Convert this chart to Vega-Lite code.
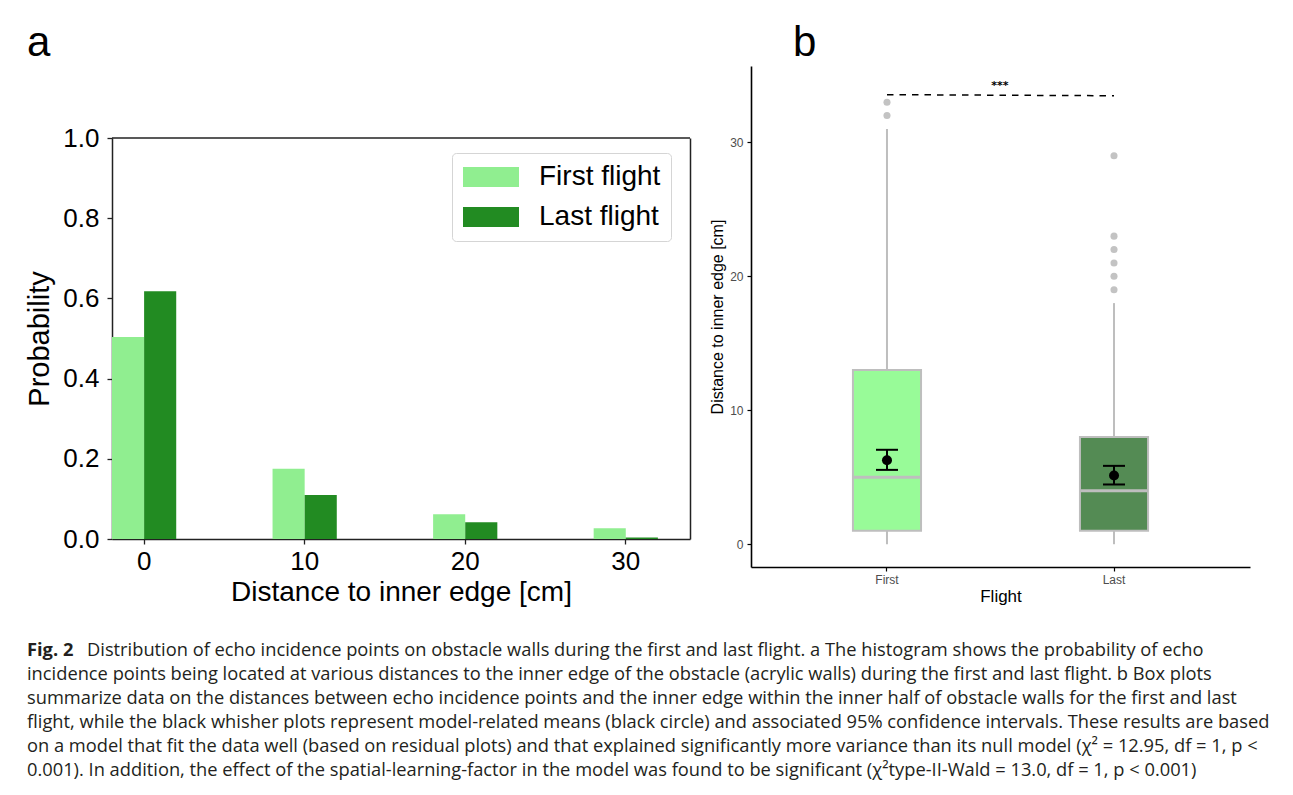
{
  "$schema": "https://vega.github.io/schema/vega-lite/v6.json",
  "background": "white",
  "padding": {"left": 25, "top": 22, "right": 0, "bottom": 0},
  "datasets": {
    "hist": [
      {"bin": 0, "flight": "First flight", "p": 0.504},
      {"bin": 0, "flight": "Last flight", "p": 0.618},
      {"bin": 10, "flight": "First flight", "p": 0.175},
      {"bin": 10, "flight": "Last flight", "p": 0.11},
      {"bin": 20, "flight": "First flight", "p": 0.062},
      {"bin": 20, "flight": "Last flight", "p": 0.042},
      {"bin": 30, "flight": "First flight", "p": 0.027},
      {"bin": 30, "flight": "Last flight", "p": 0.004}
    ],
    "summary": [
      {"flight": "First", "lower": 0, "q1": 1, "median": 5, "q3": 13, "upper": 31, "mean": 6.27, "ci_lo": 5.55, "ci_hi": 7.05},
      {"flight": "Last", "lower": 0, "q1": 1, "median": 4, "q3": 8, "upper": 18, "mean": 5.13, "ci_lo": 4.46, "ci_hi": 5.85}
    ],
    "outliers": [
      {"flight": "First", "value": 32},
      {"flight": "First", "value": 33},
      {"flight": "Last", "value": 19},
      {"flight": "Last", "value": 20},
      {"flight": "Last", "value": 21},
      {"flight": "Last", "value": 22},
      {"flight": "Last", "value": 23},
      {"flight": "Last", "value": 29}
    ],
    "sig": [
      {"flight": "First", "y": 33.56},
      {"flight": "Last", "y": 33.48}
    ],
    "sigtext": [
      {"flight": "First", "y": 34.18, "label": "***"}
    ],
    "caption1bold": [
      {"line": 1, "text": "Fig. 2"}
    ],
    "caption1": [
      {"line": 1, "text": "Distribution of echo incidence points on obstacle walls during the first and last flight. a The histogram shows the probability of echo"}
    ],
    "caption": [
      {"line": 2, "text": "incidence points being located at various distances to the inner edge of the obstacle (acrylic walls) during the first and last flight. b Box plots"},
      {"line": 3, "text": "summarize data on the distances between echo incidence points and the inner edge within the inner half of obstacle walls for the first and last"},
      {"line": 4, "text": "flight, while the black whisher plots represent model-related means (black circle) and associated 95% confidence intervals. These results are based"},
      {"line": 5, "text": "on a model that fit the data well (based on residual plots) and that explained significantly more variance than its null model (χ² = 12.95, df = 1, p <"},
      {"line": 6, "text": "0.001). In addition, the effect of the spatial-learning-factor in the model was found to be significant (χ²type-II-Wald = 13.0, df = 1, p < 0.001)"}
    ]
  },
  "vconcat": [
    {
      "hconcat": [
        {
          "width": 578,
          "height": 473,
          "title": {"text": "a", "anchor": "start", "frame": "group", "dx": -85, "offset": -32, "fontSize": 42, "font": "Liberation Sans", "fontWeight": "normal", "baseline": "alphabetic", "color": "black"},
          "view": {"stroke": null},
          "layer": [
            {
              "data": {"name": "hist"},
              "mark": {"type": "bar"},
              "encoding": {
                "x": {
                  "field": "bin", "type": "ordinal",
                  "scale": {"paddingInner": 0.6, "paddingOuter": 0.1, "align": 0},
                  "axis": {"title": "Distance to inner edge [cm]", "labelAngle": 0, "labelFontSize": 26, "labelColor": "black", "labelPadding": 4, "tickSize": 5, "tickColor": "#222222", "tickWidth": 1.3, "domain": true, "domainColor": "#222222", "domainWidth": 1.5, "titleFontSize": 28, "titleFontWeight": "normal", "titleColor": "black", "titlePadding": 4, "labelFont": "Liberation Sans", "titleFont": "Liberation Sans"}
                },
                "xOffset": {"field": "flight", "type": "nominal", "scale": {"domain": ["First flight", "Last flight"], "paddingInner": 0, "paddingOuter": 0}},
                "y": {
                  "field": "p", "type": "quantitative",
                  "scale": {"domain": [0, 1], "range": [473, 72], "nice": false},
                  "axis": {"title": "Probability", "values": [0, 0.2, 0.4, 0.6, 0.8, 1.0], "format": ".1f", "labelFontSize": 26, "labelColor": "black", "labelPadding": 8, "tickSize": 5, "tickColor": "#222222", "tickWidth": 1.3, "domain": true, "domainColor": "#222222", "domainWidth": 1.5, "titleFontSize": 29, "titleFontWeight": "normal", "titleColor": "black", "titlePadding": 8, "labelFont": "Liberation Sans", "titleFont": "Liberation Sans"}
                },
                "color": {
                  "field": "flight", "type": "nominal",
                  "scale": {"domain": ["First flight", "Last flight"], "range": ["#90EE90", "#228B22"]},
                  "legend": {"title": null, "orient": "none", "legendX": 340, "legendY": 87, "labelFont": "Liberation Sans", "labelFontSize": 28, "labelColor": "black", "symbolType": "M-2.8,-1H2.8V1H-2.8Z", "symbolSize": 400, "symbolStrokeWidth": 0, "symbolOffset": 15, "labelOffset": 34, "padding": 10, "strokeColor": "#d5d5d5", "fillColor": "white", "cornerRadius": 4, "rowPadding": 12}
                }
              }
            },
            {
              "data": {"values": [{}]},
              "mark": {"type": "rule", "color": "#222222", "strokeWidth": 1.5},
              "encoding": {
                "y": {"datum": 1, "type": "quantitative",
                  "axis": {"orient": "right", "labels": false, "ticks": false, "title": null, "domain": true, "domainColor": "#222222", "domainWidth": 1.5, "grid": false}}
              }
            }
          ],
          "resolve": {"axis": {"y": "independent"}}
        },
        {
          "width": 499,
          "height": 501,
          "title": {"text": "b", "anchor": "start", "frame": "group", "dx": 42, "offset": -32, "fontSize": 42, "font": "Liberation Sans", "fontWeight": "normal", "baseline": "alphabetic", "color": "black"},
          "view": {"stroke": null},
          "encoding": {
            "x": {
              "field": "flight", "type": "nominal",
              "scale": {"domain": ["First", "Last"], "paddingInner": 0.7, "paddingOuter": 0.449},
              "axis": {"title": "Flight", "labelAngle": 0, "labelFontSize": 12, "labelColor": "#4D4D4D", "labelPadding": 3, "tickSize": 4, "tickColor": "black", "tickWidth": 1.2, "domainColor": "black", "domainWidth": 1.6, "titleFontSize": 17, "titleFontWeight": "normal", "titleColor": "black", "titlePadding": 3}
            }
          },
          "layer": [
            {
              "data": {"name": "summary"},
              "mark": {"type": "rule", "color": "#BEBEBE", "strokeWidth": 2},
              "encoding": {
                "y": {"field": "lower", "type": "quantitative",
                  "scale": {"domain": [-1.7, 35.7], "nice": false, "zero": false},
                  "axis": {"title": "Distance to inner edge [cm]", "values": [0, 10, 20, 30], "labelFontSize": 12, "labelColor": "#4D4D4D", "labelPadding": 4, "tickSize": 4, "tickColor": "black", "tickWidth": 1.2, "domainColor": "black", "domainWidth": 1.6, "titleFontSize": 16, "titleFontWeight": "normal", "titleColor": "black", "titlePadding": 4, "grid": false}},
                "y2": {"field": "upper"}
              }
            },
            {
              "data": {"name": "summary"},
              "mark": {"type": "bar", "stroke": "#BEBEBE", "strokeWidth": 2},
              "encoding": {
                "y": {"field": "q1", "type": "quantitative"},
                "y2": {"field": "q3"},
                "fill": {"field": "flight", "type": "nominal", "scale": {"domain": ["First", "Last"], "range": ["#98FB98", "#548B54"]}, "legend": null}
              }
            },
            {
              "data": {"name": "summary"},
              "mark": {"type": "tick", "color": "#BEBEBE", "thickness": 3, "size": 66, "opacity": 1},
              "encoding": {"y": {"field": "median", "type": "quantitative"}}
            },
            {
              "data": {"name": "outliers"},
              "mark": {"type": "point", "filled": true, "color": "#C3C3C3", "size": 50, "opacity": 1},
              "encoding": {"y": {"field": "value", "type": "quantitative"}}
            },
            {
              "data": {"name": "summary"},
              "mark": {"type": "rule", "color": "black", "strokeWidth": 2},
              "encoding": {"y": {"field": "ci_lo", "type": "quantitative"}, "y2": {"field": "ci_hi"}}
            },
            {
              "data": {"name": "summary"},
              "mark": {"type": "tick", "color": "black", "thickness": 2, "size": 22, "opacity": 1},
              "encoding": {"y": {"field": "ci_lo", "type": "quantitative"}}
            },
            {
              "data": {"name": "summary"},
              "mark": {"type": "tick", "color": "black", "thickness": 2, "size": 22, "opacity": 1},
              "encoding": {"y": {"field": "ci_hi", "type": "quantitative"}}
            },
            {
              "data": {"name": "summary"},
              "mark": {"type": "point", "filled": true, "color": "black", "size": 100, "opacity": 1},
              "encoding": {"y": {"field": "mean", "type": "quantitative"}}
            },
            {
              "data": {"name": "sig"},
              "mark": {"type": "line", "color": "black", "strokeWidth": 1.5, "strokeDash": [6.5, 6]},
              "encoding": {"y": {"field": "y", "type": "quantitative"}}
            },
            {
              "data": {"name": "sigtext"},
              "mark": {"type": "text", "dx": 113, "fontSize": 11, "fontWeight": "bold", "color": "black", "font": "DejaVu Sans"},
              "encoding": {"y": {"field": "y", "type": "quantitative"}, "text": {"field": "label"}}
            }
          ]
        }
      ],
      "spacing": 18
    },
    {
      "width": 1160,
      "height": 120,
      "view": {"stroke": null},
      "encoding": {
        "y": {"field": "line", "type": "ordinal", "scale": {"type": "point", "domain": [1, 2, 3, 4, 5, 6], "padding": 0}, "axis": null},
        "x": {"value": 0},
        "text": {"field": "text"}
      },
      "layer": [
        {"data": {"name": "caption1bold"}, "mark": {"type": "text", "align": "left", "baseline": "middle", "font": "Open Sans", "fontSize": 18.3, "fontWeight": "bold", "dx": -85, "color": "#231F20"}},
        {"data": {"name": "caption1"}, "mark": {"type": "text", "align": "left", "baseline": "middle", "font": "Open Sans", "fontSize": 18.3, "dx": -25, "color": "#231F20"}},
        {"data": {"name": "caption"}, "mark": {"type": "text", "align": "left", "baseline": "middle", "font": "Open Sans", "fontSize": 18.3, "dx": -85, "color": "#231F20"}}
      ]
    }
  ],
  "spacing": 35,
  "config": {
    "font": "Liberation Sans",
    "axis": {"grid": false}
  }
}
